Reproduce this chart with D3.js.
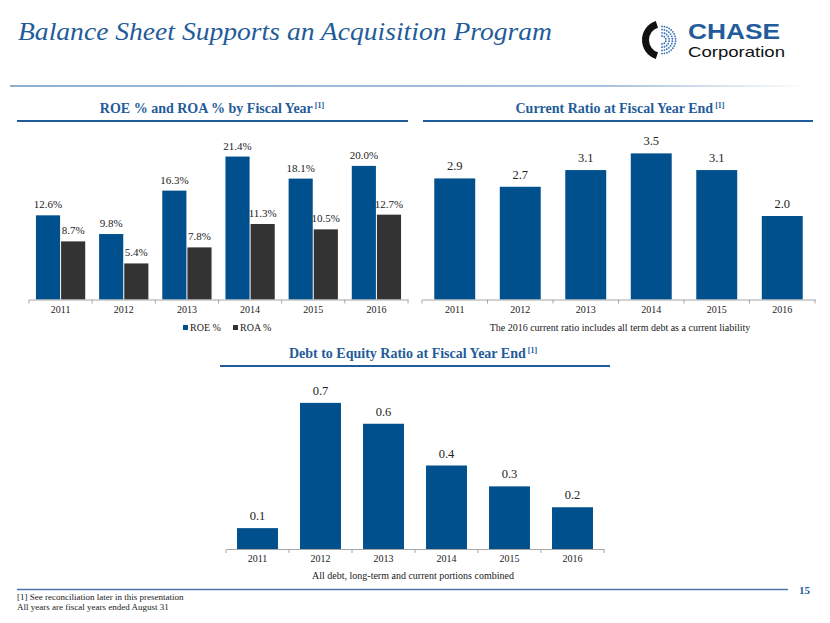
<!DOCTYPE html>
<html><head><meta charset="utf-8">
<script src="https://cdn.jsdelivr.net/npm/d3@7/dist/d3.min.js"></script>
<style>
html,body{margin:0;padding:0;background:#fff;}
svg{display:block;font-family:"Liberation Serif","Times New Roman",serif;}
</style></head>
<body>
<svg id="c" width="830" height="623"></svg>
<script>
// ---------- data ----------
const years = ["2011","2012","2013","2014","2015","2016"];
const roe = [12.6, 9.8, 16.3, 21.4, 18.1, 20.0];
const roa = [8.7, 5.4, 7.8, 11.3, 10.5, 12.7];
const currentRatio = [2.9, 2.7, 3.1, 3.5, 3.1, 2.0];
const debtEquity = [0.1, 0.7, 0.6, 0.4, 0.3, 0.2];
const seriesNames = ["ROE %", "ROA %"];

const BLUE = "#00508E", DARK = "#333333", TITLE = "#1F5C99";
const svg = d3.select("#c");

// ---------- header ----------
svg.append("text").attr("x",18).attr("y",40)
  .attr("font-size",26).attr("font-style","italic").attr("fill",TITLE)
  .attr("textLength",534).attr("lengthAdjust","spacingAndGlyphs")
  .text("Balance Sheet Supports an Acquisition Program");

const defs = svg.append("defs");
const g1 = defs.append("linearGradient").attr("id","hl");
g1.append("stop").attr("offset","0%").attr("stop-color","#8FB0D3");
g1.append("stop").attr("offset","75%").attr("stop-color","#A9C2DD");
g1.append("stop").attr("offset","100%").attr("stop-color","#ffffff");
svg.append("rect").attr("x",10).attr("y",85).attr("width",800).attr("height",2).attr("fill","url(#hl)");

// logo
const logo = svg.append("g").attr("transform","translate(662,40)");
logo.append("path").attr("d", d3.arc()({innerRadius:13,outerRadius:20,startAngle:Math.PI*1.1,endAngle:Math.PI*1.9}))
  .attr("fill","#111");
for (let r=0;r<4;r++){
  const rad = 4 + r*3.2;
  const n = 6 + r*4;
  for (let i=0;i<n;i++){
    const a = -Math.PI*0.5 + (i/(n-1))*Math.PI;
    logo.append("circle").attr("cx",Math.cos(a)*rad).attr("cy",Math.sin(a)*rad)
      .attr("r",0.9).attr("fill","#2E6DB4");
  }
}
svg.append("text").attr("x",688).attr("y",39).attr("font-family","Liberation Sans, Arial, sans-serif")
  .attr("font-weight","bold").attr("font-size",22).attr("fill","#235C9B")
  .attr("textLength",92).attr("lengthAdjust","spacingAndGlyphs").text("CHASE");
svg.append("text").attr("x",688).attr("y",57).attr("font-family","Liberation Sans, Arial, sans-serif")
  .attr("font-size",14.5).attr("fill","#111")
  .attr("textLength",97).attr("lengthAdjust","spacingAndGlyphs").text("Corporation");

// ---------- helpers ----------
function sectionTitle(cx, y, x0, x1, lineY, txt){
  const t = svg.append("text").attr("x",cx).attr("y",y).attr("text-anchor","middle")
    .attr("font-weight","bold").attr("font-size",14).attr("fill",TITLE);
  t.append("tspan").text(txt);
  t.append("tspan").attr("font-size",8).attr("dy",-5).text(" [1]");
  svg.append("line").attr("x1",x0).attr("x2",x1).attr("y1",lineY).attr("y2",lineY)
    .attr("stroke",TITLE).attr("stroke-width",2);
}
function baseAxis(x, y0, labelY){
  const r = x.range();
  const g = svg.append("g").attr("transform",`translate(0,${y0})`)
    .call(d3.axisBottom(x).tickSize(0).tickPadding(labelY - y0 - 9));
  g.select(".domain").attr("stroke","#A6A6A6").attr("stroke-width",1);
  g.selectAll(".tick text").attr("font-family","Liberation Serif, serif").attr("font-size",10).attr("fill","#222");
  const step = x.step();
  d3.range(years.length+1).forEach(i=>{
    const xx = r[0] + i*step;
    g.append("line").attr("x1",xx).attr("x2",xx).attr("y1",0).attr("y2",4).attr("stroke","#A6A6A6");
  });
}

// ---------- chart 1: ROE / ROA ----------
sectionTitle(212, 113, 17, 408, 121, "ROE % and ROA % by Fiscal Year");
const x1 = d3.scaleBand().domain(years).range([29,408]).paddingInner(0.22).paddingOuter(0.11);
const xs1 = d3.scaleBand().domain(seriesNames).range([0,x1.bandwidth()]).paddingInner(0.04);
const y1 = d3.scaleLinear().domain([0,25]).range([299.5,132.5]);
const rows1 = years.map((yr,i)=>({yr, vals:[roe[i],roa[i]]}));
const grp = svg.selectAll("g.yr").data(rows1).enter().append("g").attr("transform",d=>`translate(${x1(d.yr)},0)`);
grp.selectAll("rect").data(d=>d.vals.map((v,j)=>({v,s:seriesNames[j]}))).enter().append("rect")
  .attr("x",d=>xs1(d.s)).attr("width",xs1.bandwidth())
  .attr("y",d=>y1(d.v)).attr("height",d=>y1(0)-y1(d.v))
  .attr("fill",d=>d.s===seriesNames[0]?BLUE:DARK);
grp.selectAll("text").data(d=>d.vals.map((v,j)=>({v,s:seriesNames[j]}))).enter().append("text")
  .attr("x",d=>xs1(d.s)+xs1.bandwidth()/2).attr("y",d=>y1(d.v)-7)
  .attr("text-anchor","middle").attr("font-size",11).attr("fill","#222")
  .text(d=>d.v.toFixed(1)+"%");
baseAxis(x1, 299.5, 315);
// legend
const leg = svg.append("g");
[[seriesNames[0],BLUE,183],[seriesNames[1],DARK,233]].forEach(([n,c,lx])=>{
  leg.append("rect").attr("x",lx).attr("y",325).attr("width",5).attr("height",5).attr("fill",c);
  leg.append("text").attr("x",lx+7).attr("y",331).attr("font-size",10).attr("fill","#222").text(n);
});

// ---------- chart 2: Current ratio ----------
sectionTitle(620, 113, 423, 813, 121, "Current Ratio at Fiscal Year End");
const x2 = d3.scaleBand().domain(years).range([422,815]).paddingInner(0.375).paddingOuter(0.1875);
const y2 = d3.scaleLinear().domain([0,4]).range([299.5,132.5]);
svg.append("g").selectAll("rect").data(currentRatio).enter().append("rect")
  .attr("x",(d,i)=>x2(years[i])).attr("width",x2.bandwidth())
  .attr("y",d=>y2(d)).attr("height",d=>y2(0)-y2(d)).attr("fill",BLUE);
svg.append("g").selectAll("text").data(currentRatio).enter().append("text")
  .attr("x",(d,i)=>x2(years[i])+x2.bandwidth()/2).attr("y",d=>y2(d)-8)
  .attr("text-anchor","middle").attr("font-size",12.5).attr("fill","#222").text(d=>d.toFixed(1));
baseAxis(x2, 299.5, 315);
svg.append("text").attr("x",620).attr("y",331).attr("text-anchor","middle").attr("font-size",10).attr("fill","#222")
  .text("The 2016 current ratio includes all term debt as a current liability");

// ---------- chart 3: Debt to equity ----------
sectionTitle(413, 358, 220, 610, 366, "Debt to Equity Ratio at Fiscal Year End");
const x3 = d3.scaleBand().domain(years).range([226,604]).paddingInner(0.35).paddingOuter(0.175);
const y3 = d3.scaleLinear().domain([0,0.8]).range([549,382]);
svg.append("g").selectAll("rect").data(debtEquity).enter().append("rect")
  .attr("x",(d,i)=>x3(years[i])).attr("width",x3.bandwidth())
  .attr("y",d=>y3(d)).attr("height",d=>y3(0)-y3(d)).attr("fill",BLUE);
svg.append("g").selectAll("text").data(debtEquity).enter().append("text")
  .attr("x",(d,i)=>x3(years[i])+x3.bandwidth()/2).attr("y",d=>y3(d)-8)
  .attr("text-anchor","middle").attr("font-size",12.5).attr("fill","#222").text(d=>d.toFixed(1));
baseAxis(x3, 549, 564);
svg.append("text").attr("x",413).attr("y",579).attr("text-anchor","middle").attr("font-size",10).attr("fill","#222")
  .text("All debt, long-term and current portions combined");

// ---------- footer ----------
svg.append("line").attr("x1",17).attr("x2",788).attr("y1",589.5).attr("y2",589.5).attr("stroke","#4A78A8").attr("stroke-width",1.5);
svg.append("text").attr("x",810).attr("y",594).attr("text-anchor","end").attr("font-weight","bold")
  .attr("font-size",11).attr("fill",TITLE).text("15");
svg.append("text").attr("x",17).attr("y",600).attr("font-size",9).attr("fill","#222").text("[1] See reconciliation  later in this presentation");
svg.append("text").attr("x",17).attr("y",610).attr("font-size",9).attr("fill","#222").text("All years are fiscal years ended August 31");
</script>
</body></html>
